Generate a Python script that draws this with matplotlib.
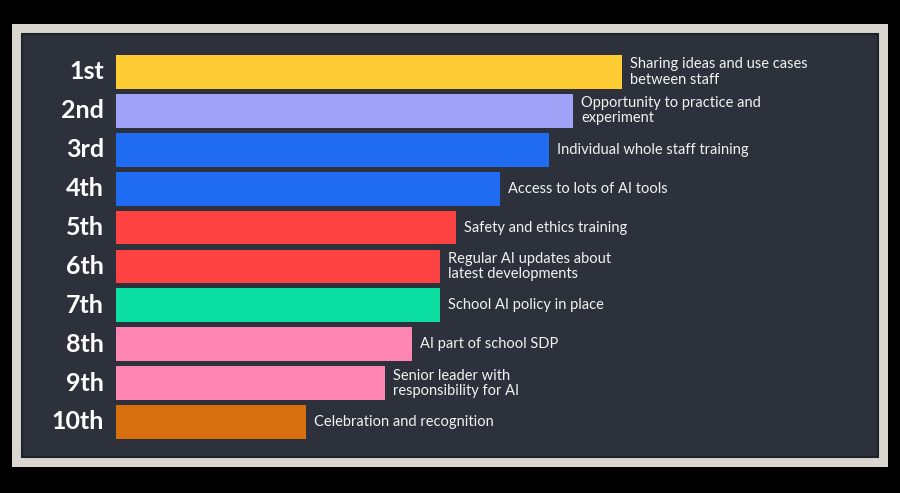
import matplotlib
matplotlib.use('Agg')
import matplotlib.pyplot as plt
from matplotlib.patches import Rectangle

# === Data (bar lengths, arbitrary units) ===
ranks = ['1st', '2nd', '3rd', '4th', '5th', '6th', '7th', '8th', '9th', '10th']
labels = [
    'Sharing ideas and use cases\nbetween staff',
    'Opportunity to practice and\nexperiment',
    'Individual whole staff training',
    'Access to lots of AI tools',
    'Safety and ethics training',
    'Regular AI updates about\nlatest developments',
    'School AI policy in place',
    'AI part of school SDP',
    'Senior leader with\nresponsibility for AI',
    'Celebration and recognition',
]
values = [506, 457, 433, 384, 340, 324, 324, 296, 269, 190]
colors = ['#FFCD33', '#A0A3F7', '#1F6CF2', '#1F6CF2', '#FF4242',
          '#FF4242', '#0BE0A2', '#FF85B3', '#FF85B3', '#D9700F']

W, H = 900, 493
fig = plt.figure(figsize=(9, 4.93), dpi=100)
fig.patch.set_facecolor('black')

# frame and chalkboard panel, drawn in a background axes
bg = fig.add_axes([0, 0, 1, 1], zorder=0)
bg.set_xlim(0, W)
bg.set_ylim(H, 0)
bg.axis('off')
bg.add_patch(Rectangle((12, 24), 876, 443, facecolor='#D9D7D0', edgecolor='none'))
bg.add_patch(Rectangle((22, 34), 856, 423, facecolor='#2C313B',
                       edgecolor='#1E2229', linewidth=1.5))

ax = fig.add_axes([116 / W, 1 - 457 / H, 762 / W, 423 / H], zorder=1)
ax.set_facecolor('none')
ypos = list(range(len(ranks)))
ax.barh(ypos, values, height=0.87, color=colors, edgecolor='none')

for y, v, r, lab in zip(ypos, values, ranks, labels):
    ax.text(-12, y, r, ha='right', va='center', color='white',
            fontsize=18, fontweight='bold', family='Lato')
    ax.text(v + 8, y, lab, ha='left', va='center', color='#F2F2F2',
            fontsize=10.5, family='Lato', linespacing=1.1)

ax.set_xlim(0, 762)
ax.set_ylim(9.9, -0.977)
ax.axis('off')

fig.savefig('out.png', dpi=100, facecolor='black')
